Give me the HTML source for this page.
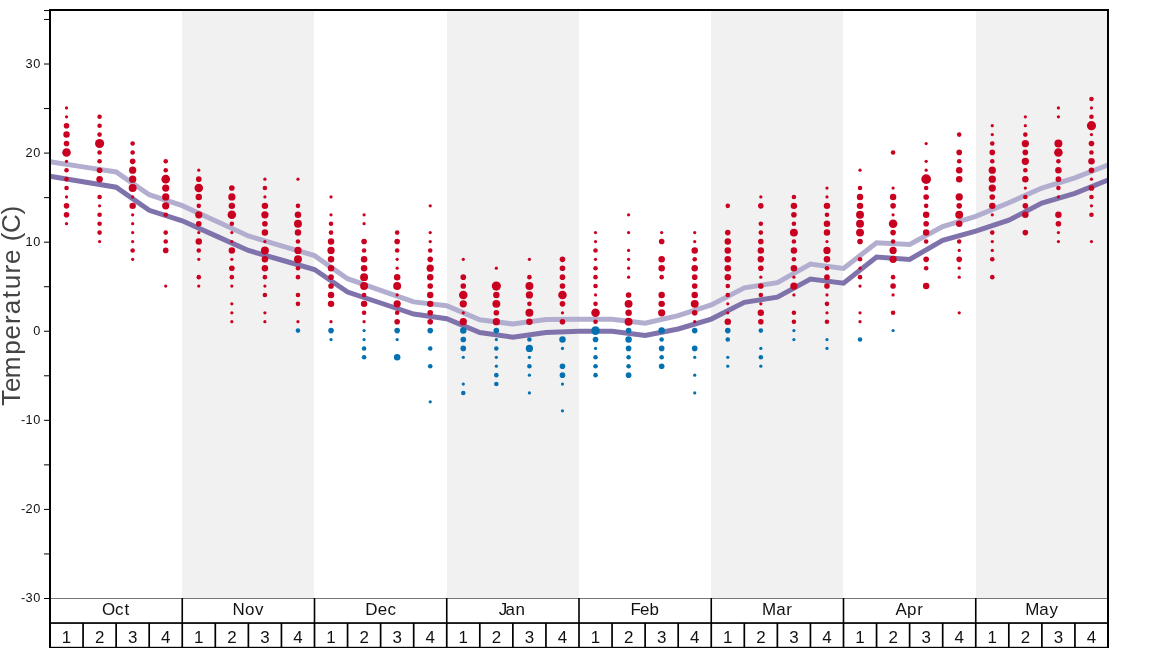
<!DOCTYPE html>
<html><head><meta charset="utf-8"><title>Temperature</title>
<style>html,body{margin:0;padding:0;background:#fff;overflow:hidden}svg{display:block;will-change:transform}text{font-family:"Liberation Sans",sans-serif}</style></head><body>
<svg width="1168" height="648" viewBox="0 0 1168 648">
<rect width="1168" height="648" fill="#fff"/>
<rect x="182" y="10" width="132" height="588.5" fill="#f1f1f1"/>
<rect x="447" y="10" width="132" height="588.5" fill="#f1f1f1"/>
<rect x="711" y="10" width="132" height="588.5" fill="#f1f1f1"/>
<rect x="976" y="10" width="132" height="588.5" fill="#f1f1f1"/>
<path d="M50.00,161.80 L83.06,166.90 L116.12,172.00 L149.19,194.70 L182.25,205.70 L215.31,220.85 L248.38,236.00 L281.44,245.80 L314.50,255.60 L347.56,278.70 L380.62,290.30 L413.69,301.90 L446.75,305.70 L479.81,319.80 L512.88,324.00 L545.94,319.40 L579.00,319.30 L612.06,319.20 L645.12,323.20 L678.19,315.70 L711.25,305.00 L744.31,287.80 L777.38,282.60 L810.44,264.10 L843.50,268.50 L876.56,242.70 L909.62,244.40 L942.69,226.50 L975.75,216.40 L1008.81,202.80 L1041.88,188.00 L1074.94,177.80 L1108.00,165.00" fill="none" stroke="#b2aecf" stroke-width="5" stroke-linejoin="miter"/>
<path d="M50.00,176.20 L83.06,181.70 L116.12,187.20 L149.19,210.30 L182.25,220.80 L215.31,235.65 L248.38,250.50 L281.44,260.00 L314.50,269.50 L347.56,292.00 L380.62,303.00 L413.69,314.00 L446.75,318.70 L479.81,332.60 L512.88,337.20 L545.94,332.60 L579.00,331.20 L612.06,331.30 L645.12,335.40 L678.19,329.00 L711.25,319.10 L744.31,302.30 L777.38,297.10 L810.44,279.10 L843.50,283.20 L876.56,257.10 L909.62,259.40 L942.69,240.30 L975.75,231.10 L1008.81,220.20 L1041.88,203.10 L1074.94,193.40 L1108.00,180.00" fill="none" stroke="#8073ac" stroke-width="5" stroke-linejoin="miter"/>
<g>
<circle cx="66.53" cy="223.69" r="1.62" fill="#ca0020"/>
<circle cx="66.53" cy="214.78" r="2.81" fill="#ca0020"/>
<circle cx="66.53" cy="205.87" r="2.81" fill="#ca0020"/>
<circle cx="66.53" cy="196.97" r="1.62" fill="#ca0020"/>
<circle cx="66.53" cy="188.06" r="2.29" fill="#ca0020"/>
<circle cx="66.53" cy="179.15" r="2.29" fill="#ca0020"/>
<circle cx="66.53" cy="170.24" r="2.29" fill="#ca0020"/>
<circle cx="66.53" cy="161.33" r="1.62" fill="#ca0020"/>
<circle cx="66.53" cy="152.42" r="4.29" fill="#ca0020"/>
<circle cx="66.53" cy="143.51" r="2.81" fill="#ca0020"/>
<circle cx="66.53" cy="134.60" r="3.24" fill="#ca0020"/>
<circle cx="66.53" cy="125.69" r="2.81" fill="#ca0020"/>
<circle cx="66.53" cy="116.78" r="1.62" fill="#ca0020"/>
<circle cx="66.53" cy="107.88" r="1.62" fill="#ca0020"/>
<circle cx="99.59" cy="241.51" r="1.62" fill="#ca0020"/>
<circle cx="99.59" cy="232.60" r="2.29" fill="#ca0020"/>
<circle cx="99.59" cy="223.69" r="2.29" fill="#ca0020"/>
<circle cx="99.59" cy="214.78" r="2.29" fill="#ca0020"/>
<circle cx="99.59" cy="205.87" r="1.62" fill="#ca0020"/>
<circle cx="99.59" cy="196.97" r="2.29" fill="#ca0020"/>
<circle cx="99.59" cy="179.15" r="3.24" fill="#ca0020"/>
<circle cx="99.59" cy="170.24" r="2.81" fill="#ca0020"/>
<circle cx="99.59" cy="161.33" r="2.29" fill="#ca0020"/>
<circle cx="99.59" cy="152.42" r="2.29" fill="#ca0020"/>
<circle cx="99.59" cy="143.51" r="4.58" fill="#ca0020"/>
<circle cx="99.59" cy="134.60" r="2.29" fill="#ca0020"/>
<circle cx="99.59" cy="125.69" r="2.29" fill="#ca0020"/>
<circle cx="99.59" cy="116.78" r="2.29" fill="#ca0020"/>
<circle cx="132.66" cy="259.33" r="1.62" fill="#ca0020"/>
<circle cx="132.66" cy="250.42" r="2.29" fill="#ca0020"/>
<circle cx="132.66" cy="241.51" r="1.62" fill="#ca0020"/>
<circle cx="132.66" cy="232.60" r="1.62" fill="#ca0020"/>
<circle cx="132.66" cy="223.69" r="1.62" fill="#ca0020"/>
<circle cx="132.66" cy="214.78" r="1.62" fill="#ca0020"/>
<circle cx="132.66" cy="205.87" r="3.24" fill="#ca0020"/>
<circle cx="132.66" cy="196.97" r="1.62" fill="#ca0020"/>
<circle cx="132.66" cy="188.06" r="3.97" fill="#ca0020"/>
<circle cx="132.66" cy="179.15" r="3.62" fill="#ca0020"/>
<circle cx="132.66" cy="170.24" r="3.62" fill="#ca0020"/>
<circle cx="132.66" cy="161.33" r="2.81" fill="#ca0020"/>
<circle cx="132.66" cy="152.42" r="2.29" fill="#ca0020"/>
<circle cx="132.66" cy="143.51" r="2.29" fill="#ca0020"/>
<circle cx="165.72" cy="286.06" r="1.62" fill="#ca0020"/>
<circle cx="165.72" cy="250.42" r="2.81" fill="#ca0020"/>
<circle cx="165.72" cy="241.51" r="2.29" fill="#ca0020"/>
<circle cx="165.72" cy="232.60" r="2.29" fill="#ca0020"/>
<circle cx="165.72" cy="214.78" r="2.29" fill="#ca0020"/>
<circle cx="165.72" cy="205.87" r="3.62" fill="#ca0020"/>
<circle cx="165.72" cy="196.97" r="3.62" fill="#ca0020"/>
<circle cx="165.72" cy="188.06" r="3.62" fill="#ca0020"/>
<circle cx="165.72" cy="179.15" r="4.29" fill="#ca0020"/>
<circle cx="165.72" cy="170.24" r="2.29" fill="#ca0020"/>
<circle cx="165.72" cy="161.33" r="2.29" fill="#ca0020"/>
<circle cx="198.78" cy="286.06" r="1.62" fill="#ca0020"/>
<circle cx="198.78" cy="277.15" r="2.29" fill="#ca0020"/>
<circle cx="198.78" cy="259.33" r="1.62" fill="#ca0020"/>
<circle cx="198.78" cy="250.42" r="2.29" fill="#ca0020"/>
<circle cx="198.78" cy="241.51" r="3.24" fill="#ca0020"/>
<circle cx="198.78" cy="232.60" r="1.62" fill="#ca0020"/>
<circle cx="198.78" cy="223.69" r="2.81" fill="#ca0020"/>
<circle cx="198.78" cy="214.78" r="3.62" fill="#ca0020"/>
<circle cx="198.78" cy="205.87" r="2.29" fill="#ca0020"/>
<circle cx="198.78" cy="196.97" r="3.24" fill="#ca0020"/>
<circle cx="198.78" cy="188.06" r="4.29" fill="#ca0020"/>
<circle cx="198.78" cy="179.15" r="2.81" fill="#ca0020"/>
<circle cx="198.78" cy="170.24" r="1.62" fill="#ca0020"/>
<circle cx="231.84" cy="321.69" r="1.62" fill="#ca0020"/>
<circle cx="231.84" cy="312.78" r="1.62" fill="#ca0020"/>
<circle cx="231.84" cy="303.87" r="1.62" fill="#ca0020"/>
<circle cx="231.84" cy="286.06" r="1.62" fill="#ca0020"/>
<circle cx="231.84" cy="277.15" r="2.29" fill="#ca0020"/>
<circle cx="231.84" cy="268.24" r="2.81" fill="#ca0020"/>
<circle cx="231.84" cy="259.33" r="1.62" fill="#ca0020"/>
<circle cx="231.84" cy="250.42" r="3.24" fill="#ca0020"/>
<circle cx="231.84" cy="241.51" r="1.62" fill="#ca0020"/>
<circle cx="231.84" cy="232.60" r="1.62" fill="#ca0020"/>
<circle cx="231.84" cy="223.69" r="2.29" fill="#ca0020"/>
<circle cx="231.84" cy="214.78" r="4.29" fill="#ca0020"/>
<circle cx="231.84" cy="205.87" r="3.24" fill="#ca0020"/>
<circle cx="231.84" cy="196.97" r="3.62" fill="#ca0020"/>
<circle cx="231.84" cy="188.06" r="2.81" fill="#ca0020"/>
<circle cx="264.91" cy="321.69" r="1.62" fill="#ca0020"/>
<circle cx="264.91" cy="312.78" r="1.62" fill="#ca0020"/>
<circle cx="264.91" cy="294.96" r="2.29" fill="#ca0020"/>
<circle cx="264.91" cy="286.06" r="1.62" fill="#ca0020"/>
<circle cx="264.91" cy="277.15" r="2.29" fill="#ca0020"/>
<circle cx="264.91" cy="268.24" r="3.24" fill="#ca0020"/>
<circle cx="264.91" cy="259.33" r="3.24" fill="#ca0020"/>
<circle cx="264.91" cy="250.42" r="3.97" fill="#ca0020"/>
<circle cx="264.91" cy="241.51" r="1.62" fill="#ca0020"/>
<circle cx="264.91" cy="232.60" r="3.24" fill="#ca0020"/>
<circle cx="264.91" cy="223.69" r="2.81" fill="#ca0020"/>
<circle cx="264.91" cy="214.78" r="3.62" fill="#ca0020"/>
<circle cx="264.91" cy="205.87" r="3.24" fill="#ca0020"/>
<circle cx="264.91" cy="196.97" r="1.62" fill="#ca0020"/>
<circle cx="264.91" cy="188.06" r="2.29" fill="#ca0020"/>
<circle cx="264.91" cy="179.15" r="1.62" fill="#ca0020"/>
<circle cx="297.97" cy="330.60" r="2.29" fill="#0571b0"/>
<circle cx="297.97" cy="321.69" r="1.62" fill="#ca0020"/>
<circle cx="297.97" cy="303.87" r="2.29" fill="#ca0020"/>
<circle cx="297.97" cy="294.96" r="2.29" fill="#ca0020"/>
<circle cx="297.97" cy="277.15" r="2.29" fill="#ca0020"/>
<circle cx="297.97" cy="268.24" r="2.29" fill="#ca0020"/>
<circle cx="297.97" cy="259.33" r="3.97" fill="#ca0020"/>
<circle cx="297.97" cy="250.42" r="3.62" fill="#ca0020"/>
<circle cx="297.97" cy="241.51" r="2.29" fill="#ca0020"/>
<circle cx="297.97" cy="232.60" r="3.24" fill="#ca0020"/>
<circle cx="297.97" cy="223.69" r="3.97" fill="#ca0020"/>
<circle cx="297.97" cy="214.78" r="3.24" fill="#ca0020"/>
<circle cx="297.97" cy="205.87" r="2.29" fill="#ca0020"/>
<circle cx="297.97" cy="179.15" r="1.62" fill="#ca0020"/>
<circle cx="331.03" cy="339.51" r="1.62" fill="#0571b0"/>
<circle cx="331.03" cy="330.60" r="2.81" fill="#0571b0"/>
<circle cx="331.03" cy="321.69" r="1.62" fill="#ca0020"/>
<circle cx="331.03" cy="303.87" r="3.24" fill="#ca0020"/>
<circle cx="331.03" cy="294.96" r="3.24" fill="#ca0020"/>
<circle cx="331.03" cy="286.06" r="2.81" fill="#ca0020"/>
<circle cx="331.03" cy="277.15" r="2.81" fill="#ca0020"/>
<circle cx="331.03" cy="268.24" r="3.24" fill="#ca0020"/>
<circle cx="331.03" cy="259.33" r="3.24" fill="#ca0020"/>
<circle cx="331.03" cy="250.42" r="3.62" fill="#ca0020"/>
<circle cx="331.03" cy="241.51" r="3.24" fill="#ca0020"/>
<circle cx="331.03" cy="232.60" r="2.29" fill="#ca0020"/>
<circle cx="331.03" cy="223.69" r="2.29" fill="#ca0020"/>
<circle cx="331.03" cy="214.78" r="1.62" fill="#ca0020"/>
<circle cx="331.03" cy="196.97" r="1.62" fill="#ca0020"/>
<circle cx="364.09" cy="357.33" r="2.29" fill="#0571b0"/>
<circle cx="364.09" cy="348.42" r="2.29" fill="#0571b0"/>
<circle cx="364.09" cy="339.51" r="1.62" fill="#0571b0"/>
<circle cx="364.09" cy="330.60" r="1.62" fill="#0571b0"/>
<circle cx="364.09" cy="321.69" r="1.62" fill="#ca0020"/>
<circle cx="364.09" cy="312.78" r="2.29" fill="#ca0020"/>
<circle cx="364.09" cy="303.87" r="3.24" fill="#ca0020"/>
<circle cx="364.09" cy="294.96" r="2.29" fill="#ca0020"/>
<circle cx="364.09" cy="286.06" r="3.97" fill="#ca0020"/>
<circle cx="364.09" cy="277.15" r="3.97" fill="#ca0020"/>
<circle cx="364.09" cy="268.24" r="3.24" fill="#ca0020"/>
<circle cx="364.09" cy="259.33" r="3.24" fill="#ca0020"/>
<circle cx="364.09" cy="250.42" r="2.29" fill="#ca0020"/>
<circle cx="364.09" cy="241.51" r="2.81" fill="#ca0020"/>
<circle cx="364.09" cy="223.69" r="1.62" fill="#ca0020"/>
<circle cx="364.09" cy="214.78" r="1.62" fill="#ca0020"/>
<circle cx="397.16" cy="357.33" r="3.24" fill="#0571b0"/>
<circle cx="397.16" cy="339.51" r="1.62" fill="#0571b0"/>
<circle cx="397.16" cy="330.60" r="2.81" fill="#0571b0"/>
<circle cx="397.16" cy="321.69" r="2.81" fill="#ca0020"/>
<circle cx="397.16" cy="312.78" r="2.29" fill="#ca0020"/>
<circle cx="397.16" cy="303.87" r="3.62" fill="#ca0020"/>
<circle cx="397.16" cy="294.96" r="1.62" fill="#ca0020"/>
<circle cx="397.16" cy="286.06" r="3.97" fill="#ca0020"/>
<circle cx="397.16" cy="277.15" r="3.24" fill="#ca0020"/>
<circle cx="397.16" cy="268.24" r="1.62" fill="#ca0020"/>
<circle cx="397.16" cy="259.33" r="1.62" fill="#ca0020"/>
<circle cx="397.16" cy="250.42" r="2.29" fill="#ca0020"/>
<circle cx="397.16" cy="241.51" r="2.81" fill="#ca0020"/>
<circle cx="397.16" cy="232.60" r="2.29" fill="#ca0020"/>
<circle cx="430.22" cy="401.87" r="1.62" fill="#0571b0"/>
<circle cx="430.22" cy="366.24" r="2.29" fill="#0571b0"/>
<circle cx="430.22" cy="348.42" r="2.29" fill="#0571b0"/>
<circle cx="430.22" cy="330.60" r="2.81" fill="#0571b0"/>
<circle cx="430.22" cy="321.69" r="2.81" fill="#ca0020"/>
<circle cx="430.22" cy="312.78" r="2.81" fill="#ca0020"/>
<circle cx="430.22" cy="303.87" r="3.24" fill="#ca0020"/>
<circle cx="430.22" cy="294.96" r="3.24" fill="#ca0020"/>
<circle cx="430.22" cy="286.06" r="2.81" fill="#ca0020"/>
<circle cx="430.22" cy="277.15" r="3.24" fill="#ca0020"/>
<circle cx="430.22" cy="268.24" r="3.62" fill="#ca0020"/>
<circle cx="430.22" cy="259.33" r="2.81" fill="#ca0020"/>
<circle cx="430.22" cy="250.42" r="2.29" fill="#ca0020"/>
<circle cx="430.22" cy="241.51" r="1.62" fill="#ca0020"/>
<circle cx="430.22" cy="232.60" r="1.62" fill="#ca0020"/>
<circle cx="430.22" cy="205.87" r="1.62" fill="#ca0020"/>
<circle cx="463.28" cy="392.96" r="2.29" fill="#0571b0"/>
<circle cx="463.28" cy="384.05" r="1.62" fill="#0571b0"/>
<circle cx="463.28" cy="357.33" r="1.62" fill="#0571b0"/>
<circle cx="463.28" cy="348.42" r="2.81" fill="#0571b0"/>
<circle cx="463.28" cy="339.51" r="2.81" fill="#0571b0"/>
<circle cx="463.28" cy="330.60" r="3.24" fill="#0571b0"/>
<circle cx="463.28" cy="321.69" r="3.62" fill="#ca0020"/>
<circle cx="463.28" cy="312.78" r="1.62" fill="#ca0020"/>
<circle cx="463.28" cy="303.87" r="3.62" fill="#ca0020"/>
<circle cx="463.28" cy="294.96" r="4.29" fill="#ca0020"/>
<circle cx="463.28" cy="286.06" r="2.81" fill="#ca0020"/>
<circle cx="463.28" cy="277.15" r="2.81" fill="#ca0020"/>
<circle cx="463.28" cy="259.33" r="1.62" fill="#ca0020"/>
<circle cx="496.34" cy="384.05" r="2.29" fill="#0571b0"/>
<circle cx="496.34" cy="375.15" r="2.29" fill="#0571b0"/>
<circle cx="496.34" cy="366.24" r="1.62" fill="#0571b0"/>
<circle cx="496.34" cy="357.33" r="1.62" fill="#0571b0"/>
<circle cx="496.34" cy="348.42" r="2.29" fill="#0571b0"/>
<circle cx="496.34" cy="339.51" r="1.62" fill="#0571b0"/>
<circle cx="496.34" cy="330.60" r="2.81" fill="#0571b0"/>
<circle cx="496.34" cy="321.69" r="3.62" fill="#ca0020"/>
<circle cx="496.34" cy="312.78" r="2.81" fill="#ca0020"/>
<circle cx="496.34" cy="303.87" r="3.97" fill="#ca0020"/>
<circle cx="496.34" cy="294.96" r="3.24" fill="#ca0020"/>
<circle cx="496.34" cy="286.06" r="4.58" fill="#ca0020"/>
<circle cx="496.34" cy="268.24" r="1.62" fill="#ca0020"/>
<circle cx="529.41" cy="392.96" r="1.62" fill="#0571b0"/>
<circle cx="529.41" cy="375.15" r="1.62" fill="#0571b0"/>
<circle cx="529.41" cy="366.24" r="2.29" fill="#0571b0"/>
<circle cx="529.41" cy="357.33" r="1.62" fill="#0571b0"/>
<circle cx="529.41" cy="348.42" r="3.62" fill="#0571b0"/>
<circle cx="529.41" cy="339.51" r="2.29" fill="#0571b0"/>
<circle cx="529.41" cy="321.69" r="3.24" fill="#ca0020"/>
<circle cx="529.41" cy="312.78" r="3.97" fill="#ca0020"/>
<circle cx="529.41" cy="303.87" r="2.29" fill="#ca0020"/>
<circle cx="529.41" cy="294.96" r="3.62" fill="#ca0020"/>
<circle cx="529.41" cy="286.06" r="3.97" fill="#ca0020"/>
<circle cx="529.41" cy="277.15" r="2.29" fill="#ca0020"/>
<circle cx="529.41" cy="259.33" r="1.62" fill="#ca0020"/>
<circle cx="562.47" cy="410.78" r="1.62" fill="#0571b0"/>
<circle cx="562.47" cy="384.05" r="1.62" fill="#0571b0"/>
<circle cx="562.47" cy="375.15" r="2.81" fill="#0571b0"/>
<circle cx="562.47" cy="366.24" r="2.81" fill="#0571b0"/>
<circle cx="562.47" cy="348.42" r="1.62" fill="#0571b0"/>
<circle cx="562.47" cy="339.51" r="3.24" fill="#0571b0"/>
<circle cx="562.47" cy="321.69" r="2.81" fill="#ca0020"/>
<circle cx="562.47" cy="312.78" r="1.62" fill="#ca0020"/>
<circle cx="562.47" cy="303.87" r="2.81" fill="#ca0020"/>
<circle cx="562.47" cy="294.96" r="4.29" fill="#ca0020"/>
<circle cx="562.47" cy="286.06" r="2.81" fill="#ca0020"/>
<circle cx="562.47" cy="277.15" r="2.81" fill="#ca0020"/>
<circle cx="562.47" cy="268.24" r="2.81" fill="#ca0020"/>
<circle cx="562.47" cy="259.33" r="2.81" fill="#ca0020"/>
<circle cx="595.53" cy="375.15" r="2.29" fill="#0571b0"/>
<circle cx="595.53" cy="366.24" r="2.29" fill="#0571b0"/>
<circle cx="595.53" cy="357.33" r="2.29" fill="#0571b0"/>
<circle cx="595.53" cy="348.42" r="1.62" fill="#0571b0"/>
<circle cx="595.53" cy="339.51" r="2.81" fill="#0571b0"/>
<circle cx="595.53" cy="330.60" r="4.29" fill="#0571b0"/>
<circle cx="595.53" cy="321.69" r="2.29" fill="#ca0020"/>
<circle cx="595.53" cy="312.78" r="4.29" fill="#ca0020"/>
<circle cx="595.53" cy="303.87" r="2.29" fill="#ca0020"/>
<circle cx="595.53" cy="294.96" r="1.62" fill="#ca0020"/>
<circle cx="595.53" cy="286.06" r="2.29" fill="#ca0020"/>
<circle cx="595.53" cy="277.15" r="2.29" fill="#ca0020"/>
<circle cx="595.53" cy="268.24" r="2.29" fill="#ca0020"/>
<circle cx="595.53" cy="259.33" r="1.62" fill="#ca0020"/>
<circle cx="595.53" cy="250.42" r="2.29" fill="#ca0020"/>
<circle cx="595.53" cy="241.51" r="1.62" fill="#ca0020"/>
<circle cx="595.53" cy="232.60" r="1.62" fill="#ca0020"/>
<circle cx="628.59" cy="375.15" r="2.81" fill="#0571b0"/>
<circle cx="628.59" cy="366.24" r="2.29" fill="#0571b0"/>
<circle cx="628.59" cy="357.33" r="2.29" fill="#0571b0"/>
<circle cx="628.59" cy="348.42" r="2.81" fill="#0571b0"/>
<circle cx="628.59" cy="339.51" r="3.24" fill="#0571b0"/>
<circle cx="628.59" cy="330.60" r="2.81" fill="#0571b0"/>
<circle cx="628.59" cy="321.69" r="3.97" fill="#ca0020"/>
<circle cx="628.59" cy="312.78" r="3.24" fill="#ca0020"/>
<circle cx="628.59" cy="303.87" r="3.97" fill="#ca0020"/>
<circle cx="628.59" cy="294.96" r="2.81" fill="#ca0020"/>
<circle cx="628.59" cy="277.15" r="1.62" fill="#ca0020"/>
<circle cx="628.59" cy="268.24" r="1.62" fill="#ca0020"/>
<circle cx="628.59" cy="259.33" r="1.62" fill="#ca0020"/>
<circle cx="628.59" cy="250.42" r="1.62" fill="#ca0020"/>
<circle cx="628.59" cy="232.60" r="1.62" fill="#ca0020"/>
<circle cx="628.59" cy="214.78" r="1.62" fill="#ca0020"/>
<circle cx="661.66" cy="366.24" r="2.81" fill="#0571b0"/>
<circle cx="661.66" cy="357.33" r="2.29" fill="#0571b0"/>
<circle cx="661.66" cy="348.42" r="2.81" fill="#0571b0"/>
<circle cx="661.66" cy="339.51" r="2.29" fill="#0571b0"/>
<circle cx="661.66" cy="330.60" r="3.24" fill="#0571b0"/>
<circle cx="661.66" cy="312.78" r="3.62" fill="#ca0020"/>
<circle cx="661.66" cy="303.87" r="3.24" fill="#ca0020"/>
<circle cx="661.66" cy="294.96" r="3.24" fill="#ca0020"/>
<circle cx="661.66" cy="277.15" r="2.29" fill="#ca0020"/>
<circle cx="661.66" cy="268.24" r="3.24" fill="#ca0020"/>
<circle cx="661.66" cy="259.33" r="3.24" fill="#ca0020"/>
<circle cx="661.66" cy="241.51" r="2.81" fill="#ca0020"/>
<circle cx="661.66" cy="232.60" r="1.62" fill="#ca0020"/>
<circle cx="694.72" cy="392.96" r="1.62" fill="#0571b0"/>
<circle cx="694.72" cy="375.15" r="1.62" fill="#0571b0"/>
<circle cx="694.72" cy="357.33" r="1.62" fill="#0571b0"/>
<circle cx="694.72" cy="348.42" r="2.81" fill="#0571b0"/>
<circle cx="694.72" cy="330.60" r="2.81" fill="#0571b0"/>
<circle cx="694.72" cy="321.69" r="1.62" fill="#ca0020"/>
<circle cx="694.72" cy="312.78" r="2.81" fill="#ca0020"/>
<circle cx="694.72" cy="303.87" r="3.97" fill="#ca0020"/>
<circle cx="694.72" cy="294.96" r="3.24" fill="#ca0020"/>
<circle cx="694.72" cy="286.06" r="2.81" fill="#ca0020"/>
<circle cx="694.72" cy="277.15" r="2.81" fill="#ca0020"/>
<circle cx="694.72" cy="268.24" r="3.24" fill="#ca0020"/>
<circle cx="694.72" cy="259.33" r="2.29" fill="#ca0020"/>
<circle cx="694.72" cy="250.42" r="3.24" fill="#ca0020"/>
<circle cx="694.72" cy="241.51" r="1.62" fill="#ca0020"/>
<circle cx="694.72" cy="232.60" r="1.62" fill="#ca0020"/>
<circle cx="727.78" cy="366.24" r="1.62" fill="#0571b0"/>
<circle cx="727.78" cy="357.33" r="1.62" fill="#0571b0"/>
<circle cx="727.78" cy="339.51" r="2.29" fill="#0571b0"/>
<circle cx="727.78" cy="330.60" r="2.81" fill="#0571b0"/>
<circle cx="727.78" cy="321.69" r="3.24" fill="#ca0020"/>
<circle cx="727.78" cy="312.78" r="1.62" fill="#ca0020"/>
<circle cx="727.78" cy="303.87" r="1.62" fill="#ca0020"/>
<circle cx="727.78" cy="294.96" r="2.29" fill="#ca0020"/>
<circle cx="727.78" cy="286.06" r="2.29" fill="#ca0020"/>
<circle cx="727.78" cy="277.15" r="3.24" fill="#ca0020"/>
<circle cx="727.78" cy="268.24" r="3.24" fill="#ca0020"/>
<circle cx="727.78" cy="259.33" r="3.24" fill="#ca0020"/>
<circle cx="727.78" cy="250.42" r="3.24" fill="#ca0020"/>
<circle cx="727.78" cy="241.51" r="3.24" fill="#ca0020"/>
<circle cx="727.78" cy="232.60" r="2.81" fill="#ca0020"/>
<circle cx="727.78" cy="205.87" r="2.29" fill="#ca0020"/>
<circle cx="760.84" cy="366.24" r="1.62" fill="#0571b0"/>
<circle cx="760.84" cy="357.33" r="2.29" fill="#0571b0"/>
<circle cx="760.84" cy="348.42" r="1.62" fill="#0571b0"/>
<circle cx="760.84" cy="330.60" r="2.29" fill="#0571b0"/>
<circle cx="760.84" cy="321.69" r="2.81" fill="#ca0020"/>
<circle cx="760.84" cy="312.78" r="3.24" fill="#ca0020"/>
<circle cx="760.84" cy="303.87" r="1.62" fill="#ca0020"/>
<circle cx="760.84" cy="294.96" r="2.29" fill="#ca0020"/>
<circle cx="760.84" cy="286.06" r="2.81" fill="#ca0020"/>
<circle cx="760.84" cy="277.15" r="1.62" fill="#ca0020"/>
<circle cx="760.84" cy="268.24" r="2.81" fill="#ca0020"/>
<circle cx="760.84" cy="259.33" r="3.24" fill="#ca0020"/>
<circle cx="760.84" cy="250.42" r="3.24" fill="#ca0020"/>
<circle cx="760.84" cy="241.51" r="2.81" fill="#ca0020"/>
<circle cx="760.84" cy="232.60" r="2.29" fill="#ca0020"/>
<circle cx="760.84" cy="223.69" r="2.29" fill="#ca0020"/>
<circle cx="760.84" cy="205.87" r="2.81" fill="#ca0020"/>
<circle cx="760.84" cy="196.97" r="1.62" fill="#ca0020"/>
<circle cx="793.91" cy="339.51" r="1.62" fill="#0571b0"/>
<circle cx="793.91" cy="330.60" r="1.62" fill="#0571b0"/>
<circle cx="793.91" cy="321.69" r="2.29" fill="#ca0020"/>
<circle cx="793.91" cy="312.78" r="2.29" fill="#ca0020"/>
<circle cx="793.91" cy="294.96" r="1.62" fill="#ca0020"/>
<circle cx="793.91" cy="286.06" r="3.62" fill="#ca0020"/>
<circle cx="793.91" cy="277.15" r="1.62" fill="#ca0020"/>
<circle cx="793.91" cy="268.24" r="3.24" fill="#ca0020"/>
<circle cx="793.91" cy="259.33" r="2.29" fill="#ca0020"/>
<circle cx="793.91" cy="250.42" r="3.24" fill="#ca0020"/>
<circle cx="793.91" cy="241.51" r="2.29" fill="#ca0020"/>
<circle cx="793.91" cy="232.60" r="3.97" fill="#ca0020"/>
<circle cx="793.91" cy="223.69" r="2.29" fill="#ca0020"/>
<circle cx="793.91" cy="214.78" r="2.81" fill="#ca0020"/>
<circle cx="793.91" cy="205.87" r="3.24" fill="#ca0020"/>
<circle cx="793.91" cy="196.97" r="2.29" fill="#ca0020"/>
<circle cx="826.97" cy="348.42" r="1.62" fill="#0571b0"/>
<circle cx="826.97" cy="339.51" r="1.62" fill="#0571b0"/>
<circle cx="826.97" cy="321.69" r="2.29" fill="#ca0020"/>
<circle cx="826.97" cy="312.78" r="1.62" fill="#ca0020"/>
<circle cx="826.97" cy="303.87" r="2.29" fill="#ca0020"/>
<circle cx="826.97" cy="294.96" r="1.62" fill="#ca0020"/>
<circle cx="826.97" cy="286.06" r="2.81" fill="#ca0020"/>
<circle cx="826.97" cy="277.15" r="2.81" fill="#ca0020"/>
<circle cx="826.97" cy="268.24" r="2.29" fill="#ca0020"/>
<circle cx="826.97" cy="259.33" r="3.24" fill="#ca0020"/>
<circle cx="826.97" cy="250.42" r="3.62" fill="#ca0020"/>
<circle cx="826.97" cy="241.51" r="1.62" fill="#ca0020"/>
<circle cx="826.97" cy="232.60" r="3.24" fill="#ca0020"/>
<circle cx="826.97" cy="223.69" r="3.24" fill="#ca0020"/>
<circle cx="826.97" cy="214.78" r="2.29" fill="#ca0020"/>
<circle cx="826.97" cy="205.87" r="3.24" fill="#ca0020"/>
<circle cx="826.97" cy="196.97" r="1.62" fill="#ca0020"/>
<circle cx="826.97" cy="188.06" r="1.62" fill="#ca0020"/>
<circle cx="860.03" cy="339.51" r="2.29" fill="#0571b0"/>
<circle cx="860.03" cy="321.69" r="1.62" fill="#ca0020"/>
<circle cx="860.03" cy="312.78" r="1.62" fill="#ca0020"/>
<circle cx="860.03" cy="286.06" r="1.62" fill="#ca0020"/>
<circle cx="860.03" cy="277.15" r="2.29" fill="#ca0020"/>
<circle cx="860.03" cy="268.24" r="1.62" fill="#ca0020"/>
<circle cx="860.03" cy="259.33" r="2.29" fill="#ca0020"/>
<circle cx="860.03" cy="241.51" r="2.81" fill="#ca0020"/>
<circle cx="860.03" cy="232.60" r="3.97" fill="#ca0020"/>
<circle cx="860.03" cy="223.69" r="3.97" fill="#ca0020"/>
<circle cx="860.03" cy="214.78" r="3.97" fill="#ca0020"/>
<circle cx="860.03" cy="205.87" r="3.24" fill="#ca0020"/>
<circle cx="860.03" cy="196.97" r="3.24" fill="#ca0020"/>
<circle cx="860.03" cy="188.06" r="2.29" fill="#ca0020"/>
<circle cx="860.03" cy="170.24" r="1.62" fill="#ca0020"/>
<circle cx="893.09" cy="330.60" r="1.62" fill="#0571b0"/>
<circle cx="893.09" cy="312.78" r="2.29" fill="#ca0020"/>
<circle cx="893.09" cy="294.96" r="1.62" fill="#ca0020"/>
<circle cx="893.09" cy="286.06" r="2.81" fill="#ca0020"/>
<circle cx="893.09" cy="277.15" r="2.29" fill="#ca0020"/>
<circle cx="893.09" cy="259.33" r="3.62" fill="#ca0020"/>
<circle cx="893.09" cy="250.42" r="3.62" fill="#ca0020"/>
<circle cx="893.09" cy="241.51" r="2.29" fill="#ca0020"/>
<circle cx="893.09" cy="232.60" r="2.81" fill="#ca0020"/>
<circle cx="893.09" cy="223.69" r="4.29" fill="#ca0020"/>
<circle cx="893.09" cy="214.78" r="1.62" fill="#ca0020"/>
<circle cx="893.09" cy="205.87" r="2.81" fill="#ca0020"/>
<circle cx="893.09" cy="196.97" r="3.24" fill="#ca0020"/>
<circle cx="893.09" cy="188.06" r="1.62" fill="#ca0020"/>
<circle cx="893.09" cy="152.42" r="2.29" fill="#ca0020"/>
<circle cx="926.16" cy="286.06" r="3.24" fill="#ca0020"/>
<circle cx="926.16" cy="268.24" r="2.29" fill="#ca0020"/>
<circle cx="926.16" cy="259.33" r="2.81" fill="#ca0020"/>
<circle cx="926.16" cy="241.51" r="2.29" fill="#ca0020"/>
<circle cx="926.16" cy="232.60" r="3.24" fill="#ca0020"/>
<circle cx="926.16" cy="223.69" r="2.81" fill="#ca0020"/>
<circle cx="926.16" cy="214.78" r="3.24" fill="#ca0020"/>
<circle cx="926.16" cy="205.87" r="2.29" fill="#ca0020"/>
<circle cx="926.16" cy="196.97" r="2.81" fill="#ca0020"/>
<circle cx="926.16" cy="188.06" r="2.29" fill="#ca0020"/>
<circle cx="926.16" cy="179.15" r="4.86" fill="#ca0020"/>
<circle cx="926.16" cy="170.24" r="1.62" fill="#ca0020"/>
<circle cx="926.16" cy="161.33" r="1.62" fill="#ca0020"/>
<circle cx="926.16" cy="143.51" r="1.62" fill="#ca0020"/>
<circle cx="959.22" cy="312.78" r="1.62" fill="#ca0020"/>
<circle cx="959.22" cy="277.15" r="1.62" fill="#ca0020"/>
<circle cx="959.22" cy="268.24" r="1.62" fill="#ca0020"/>
<circle cx="959.22" cy="259.33" r="2.81" fill="#ca0020"/>
<circle cx="959.22" cy="250.42" r="1.62" fill="#ca0020"/>
<circle cx="959.22" cy="241.51" r="2.29" fill="#ca0020"/>
<circle cx="959.22" cy="223.69" r="3.24" fill="#ca0020"/>
<circle cx="959.22" cy="214.78" r="3.97" fill="#ca0020"/>
<circle cx="959.22" cy="205.87" r="2.81" fill="#ca0020"/>
<circle cx="959.22" cy="196.97" r="3.62" fill="#ca0020"/>
<circle cx="959.22" cy="179.15" r="3.24" fill="#ca0020"/>
<circle cx="959.22" cy="170.24" r="3.24" fill="#ca0020"/>
<circle cx="959.22" cy="161.33" r="2.29" fill="#ca0020"/>
<circle cx="959.22" cy="152.42" r="2.81" fill="#ca0020"/>
<circle cx="959.22" cy="134.60" r="2.29" fill="#ca0020"/>
<circle cx="992.28" cy="277.15" r="2.29" fill="#ca0020"/>
<circle cx="992.28" cy="259.33" r="2.29" fill="#ca0020"/>
<circle cx="992.28" cy="250.42" r="1.62" fill="#ca0020"/>
<circle cx="992.28" cy="241.51" r="1.62" fill="#ca0020"/>
<circle cx="992.28" cy="232.60" r="2.29" fill="#ca0020"/>
<circle cx="992.28" cy="214.78" r="1.62" fill="#ca0020"/>
<circle cx="992.28" cy="205.87" r="3.24" fill="#ca0020"/>
<circle cx="992.28" cy="196.97" r="2.81" fill="#ca0020"/>
<circle cx="992.28" cy="188.06" r="3.62" fill="#ca0020"/>
<circle cx="992.28" cy="179.15" r="3.62" fill="#ca0020"/>
<circle cx="992.28" cy="170.24" r="3.62" fill="#ca0020"/>
<circle cx="992.28" cy="161.33" r="2.29" fill="#ca0020"/>
<circle cx="992.28" cy="152.42" r="2.81" fill="#ca0020"/>
<circle cx="992.28" cy="143.51" r="2.29" fill="#ca0020"/>
<circle cx="992.28" cy="134.60" r="1.62" fill="#ca0020"/>
<circle cx="992.28" cy="125.69" r="1.62" fill="#ca0020"/>
<circle cx="1025.34" cy="232.60" r="2.81" fill="#ca0020"/>
<circle cx="1025.34" cy="214.78" r="3.24" fill="#ca0020"/>
<circle cx="1025.34" cy="205.87" r="2.81" fill="#ca0020"/>
<circle cx="1025.34" cy="196.97" r="2.29" fill="#ca0020"/>
<circle cx="1025.34" cy="188.06" r="1.62" fill="#ca0020"/>
<circle cx="1025.34" cy="179.15" r="3.24" fill="#ca0020"/>
<circle cx="1025.34" cy="170.24" r="2.29" fill="#ca0020"/>
<circle cx="1025.34" cy="161.33" r="3.62" fill="#ca0020"/>
<circle cx="1025.34" cy="152.42" r="2.81" fill="#ca0020"/>
<circle cx="1025.34" cy="143.51" r="3.62" fill="#ca0020"/>
<circle cx="1025.34" cy="134.60" r="2.29" fill="#ca0020"/>
<circle cx="1025.34" cy="125.69" r="1.62" fill="#ca0020"/>
<circle cx="1025.34" cy="116.78" r="1.62" fill="#ca0020"/>
<circle cx="1058.41" cy="241.51" r="1.62" fill="#ca0020"/>
<circle cx="1058.41" cy="232.60" r="1.62" fill="#ca0020"/>
<circle cx="1058.41" cy="223.69" r="2.81" fill="#ca0020"/>
<circle cx="1058.41" cy="214.78" r="3.24" fill="#ca0020"/>
<circle cx="1058.41" cy="196.97" r="1.62" fill="#ca0020"/>
<circle cx="1058.41" cy="188.06" r="2.29" fill="#ca0020"/>
<circle cx="1058.41" cy="179.15" r="2.81" fill="#ca0020"/>
<circle cx="1058.41" cy="170.24" r="3.24" fill="#ca0020"/>
<circle cx="1058.41" cy="161.33" r="2.29" fill="#ca0020"/>
<circle cx="1058.41" cy="152.42" r="4.29" fill="#ca0020"/>
<circle cx="1058.41" cy="143.51" r="3.97" fill="#ca0020"/>
<circle cx="1058.41" cy="116.78" r="1.62" fill="#ca0020"/>
<circle cx="1058.41" cy="107.88" r="1.62" fill="#ca0020"/>
<circle cx="1091.47" cy="241.51" r="1.62" fill="#ca0020"/>
<circle cx="1091.47" cy="214.78" r="2.29" fill="#ca0020"/>
<circle cx="1091.47" cy="205.87" r="1.62" fill="#ca0020"/>
<circle cx="1091.47" cy="196.97" r="2.29" fill="#ca0020"/>
<circle cx="1091.47" cy="188.06" r="2.81" fill="#ca0020"/>
<circle cx="1091.47" cy="179.15" r="1.62" fill="#ca0020"/>
<circle cx="1091.47" cy="170.24" r="2.81" fill="#ca0020"/>
<circle cx="1091.47" cy="161.33" r="3.24" fill="#ca0020"/>
<circle cx="1091.47" cy="152.42" r="2.29" fill="#ca0020"/>
<circle cx="1091.47" cy="143.51" r="2.81" fill="#ca0020"/>
<circle cx="1091.47" cy="134.60" r="1.62" fill="#ca0020"/>
<circle cx="1091.47" cy="125.69" r="4.58" fill="#ca0020"/>
<circle cx="1091.47" cy="116.78" r="2.29" fill="#ca0020"/>
<circle cx="1091.47" cy="107.88" r="1.62" fill="#ca0020"/>
<circle cx="1091.47" cy="98.97" r="2.29" fill="#ca0020"/>
</g>
<rect x="44" y="597.99" width="5.5" height="1" fill="#000"/>
<text x="20.95 25.51 33.15" y="602.00" font-size="12.72" fill="#111">-30</text>
<rect x="44" y="508.91" width="5.5" height="1" fill="#000"/>
<text x="20.95 25.51 33.15" y="513.05" font-size="12.72" fill="#111">-20</text>
<rect x="44" y="419.83" width="5.5" height="1" fill="#000"/>
<text x="20.95 25.51 33.15" y="424.10" font-size="12.72" fill="#111">-10</text>
<rect x="44" y="330.75" width="5.5" height="1" fill="#000"/>
<text x="33.15" y="335.15" font-size="12.72" fill="#111">0</text>
<rect x="44" y="241.67" width="5.5" height="1" fill="#000"/>
<text x="25.51 33.15" y="246.20" font-size="12.72" fill="#111">10</text>
<rect x="44" y="152.59" width="5.5" height="1" fill="#000"/>
<text x="25.51 33.15" y="157.25" font-size="12.72" fill="#111">20</text>
<rect x="44" y="63.51" width="5.5" height="1" fill="#000"/>
<text x="25.51 33.15" y="68.30" font-size="12.72" fill="#111">30</text>
<rect x="44" y="553.45" width="5.5" height="1" fill="#000"/>
<rect x="44" y="464.37" width="5.5" height="1" fill="#000"/>
<rect x="44" y="375.29" width="5.5" height="1" fill="#000"/>
<rect x="44" y="286.21" width="5.5" height="1" fill="#000"/>
<rect x="44" y="197.13" width="5.5" height="1" fill="#000"/>
<rect x="44" y="108.05" width="5.5" height="1" fill="#000"/>
<rect x="44" y="18.97" width="5.5" height="1" fill="#000"/>
<rect x="44" y="10.06" width="5.5" height="1" fill="#000"/>
<rect x="50" y="598" width="1058" height="1" fill="#777"/>
<rect x="50" y="622.2" width="1058" height="1.7" fill="#000"/>
<rect x="49" y="646.8" width="1060" height="1.2" fill="#000"/>
<rect x="181.45" y="598" width="1.6" height="25" fill="#000"/>
<rect x="313.70" y="598" width="1.6" height="25" fill="#000"/>
<rect x="445.95" y="598" width="1.6" height="25" fill="#000"/>
<rect x="578.20" y="598" width="1.6" height="25" fill="#000"/>
<rect x="710.45" y="598" width="1.6" height="25" fill="#000"/>
<rect x="842.70" y="598" width="1.6" height="25" fill="#000"/>
<rect x="974.95" y="598" width="1.6" height="25" fill="#000"/>
<rect x="82.21" y="623" width="1.7" height="25" fill="#000"/>
<rect x="115.28" y="623" width="1.7" height="25" fill="#000"/>
<rect x="148.34" y="623" width="1.7" height="25" fill="#000"/>
<rect x="181.40" y="623" width="1.7" height="25" fill="#000"/>
<rect x="214.46" y="623" width="1.7" height="25" fill="#000"/>
<rect x="247.53" y="623" width="1.7" height="25" fill="#000"/>
<rect x="280.59" y="623" width="1.7" height="25" fill="#000"/>
<rect x="313.65" y="623" width="1.7" height="25" fill="#000"/>
<rect x="346.71" y="623" width="1.7" height="25" fill="#000"/>
<rect x="379.77" y="623" width="1.7" height="25" fill="#000"/>
<rect x="412.84" y="623" width="1.7" height="25" fill="#000"/>
<rect x="445.90" y="623" width="1.7" height="25" fill="#000"/>
<rect x="478.96" y="623" width="1.7" height="25" fill="#000"/>
<rect x="512.02" y="623" width="1.7" height="25" fill="#000"/>
<rect x="545.09" y="623" width="1.7" height="25" fill="#000"/>
<rect x="578.15" y="623" width="1.7" height="25" fill="#000"/>
<rect x="611.21" y="623" width="1.7" height="25" fill="#000"/>
<rect x="644.27" y="623" width="1.7" height="25" fill="#000"/>
<rect x="677.34" y="623" width="1.7" height="25" fill="#000"/>
<rect x="710.40" y="623" width="1.7" height="25" fill="#000"/>
<rect x="743.46" y="623" width="1.7" height="25" fill="#000"/>
<rect x="776.52" y="623" width="1.7" height="25" fill="#000"/>
<rect x="809.59" y="623" width="1.7" height="25" fill="#000"/>
<rect x="842.65" y="623" width="1.7" height="25" fill="#000"/>
<rect x="875.71" y="623" width="1.7" height="25" fill="#000"/>
<rect x="908.77" y="623" width="1.7" height="25" fill="#000"/>
<rect x="941.84" y="623" width="1.7" height="25" fill="#000"/>
<rect x="974.90" y="623" width="1.7" height="25" fill="#000"/>
<rect x="1007.96" y="623" width="1.7" height="25" fill="#000"/>
<rect x="1041.03" y="623" width="1.7" height="25" fill="#000"/>
<rect x="1074.09" y="623" width="1.7" height="25" fill="#000"/>
<text x="102.00 115.05 124.47" y="614.80" font-size="16.95" fill="#111">Oct</text>
<text x="232.62 244.91 255.02" y="614.80" font-size="16.95" fill="#111">Nov</text>
<text x="365.18 377.67 387.47" y="614.80" font-size="16.95" fill="#111">Dec</text>
<text x="498.66 505.45 515.42" y="614.80" font-size="16.95" fill="#111">Jan</text>
<text x="630.38 639.93 649.50" y="614.80" font-size="16.95" fill="#111">Feb</text>
<text x="762.12 776.27 786.36" y="614.80" font-size="16.95" fill="#111">Mar</text>
<text x="895.60 907.09 917.35" y="614.80" font-size="16.95" fill="#111">Apr</text>
<text x="1025.18 1039.33 1049.44" y="614.80" font-size="16.95" fill="#111">May</text>
<text x="61.82" y="642.90" font-size="16.95" fill="#111">1</text>
<text x="94.88" y="642.90" font-size="16.95" fill="#111">2</text>
<text x="127.94" y="642.90" font-size="16.95" fill="#111">3</text>
<text x="161.00" y="642.90" font-size="16.95" fill="#111">4</text>
<text x="194.07" y="642.90" font-size="16.95" fill="#111">1</text>
<text x="227.13" y="642.90" font-size="16.95" fill="#111">2</text>
<text x="260.19" y="642.90" font-size="16.95" fill="#111">3</text>
<text x="293.25" y="642.90" font-size="16.95" fill="#111">4</text>
<text x="326.32" y="642.90" font-size="16.95" fill="#111">1</text>
<text x="359.38" y="642.90" font-size="16.95" fill="#111">2</text>
<text x="392.44" y="642.90" font-size="16.95" fill="#111">3</text>
<text x="425.50" y="642.90" font-size="16.95" fill="#111">4</text>
<text x="458.57" y="642.90" font-size="16.95" fill="#111">1</text>
<text x="491.63" y="642.90" font-size="16.95" fill="#111">2</text>
<text x="524.69" y="642.90" font-size="16.95" fill="#111">3</text>
<text x="557.75" y="642.90" font-size="16.95" fill="#111">4</text>
<text x="590.82" y="642.90" font-size="16.95" fill="#111">1</text>
<text x="623.88" y="642.90" font-size="16.95" fill="#111">2</text>
<text x="656.94" y="642.90" font-size="16.95" fill="#111">3</text>
<text x="690.00" y="642.90" font-size="16.95" fill="#111">4</text>
<text x="723.07" y="642.90" font-size="16.95" fill="#111">1</text>
<text x="756.13" y="642.90" font-size="16.95" fill="#111">2</text>
<text x="789.19" y="642.90" font-size="16.95" fill="#111">3</text>
<text x="822.25" y="642.90" font-size="16.95" fill="#111">4</text>
<text x="855.32" y="642.90" font-size="16.95" fill="#111">1</text>
<text x="888.38" y="642.90" font-size="16.95" fill="#111">2</text>
<text x="921.44" y="642.90" font-size="16.95" fill="#111">3</text>
<text x="954.50" y="642.90" font-size="16.95" fill="#111">4</text>
<text x="987.57" y="642.90" font-size="16.95" fill="#111">1</text>
<text x="1020.63" y="642.90" font-size="16.95" fill="#111">2</text>
<text x="1053.69" y="642.90" font-size="16.95" fill="#111">3</text>
<text x="1086.75" y="642.90" font-size="16.95" fill="#111">4</text>
<rect x="49" y="9" width="2" height="639" fill="#000"/>
<rect x="1107" y="9" width="2" height="639" fill="#000"/>
<rect x="49" y="9" width="1060" height="2" fill="#000"/>
<text x="-100.46 -86.75 -72.90 -49.51 -34.13 -18.60 -8.91 7.08 16.07 31.83 41.27 56.11 64.10 72.41 90.87" y="0.00" font-size="26.07" fill="#444" transform="translate(19.75,305.3) rotate(-90)">Temperature (C)</text>
</svg></body></html>
